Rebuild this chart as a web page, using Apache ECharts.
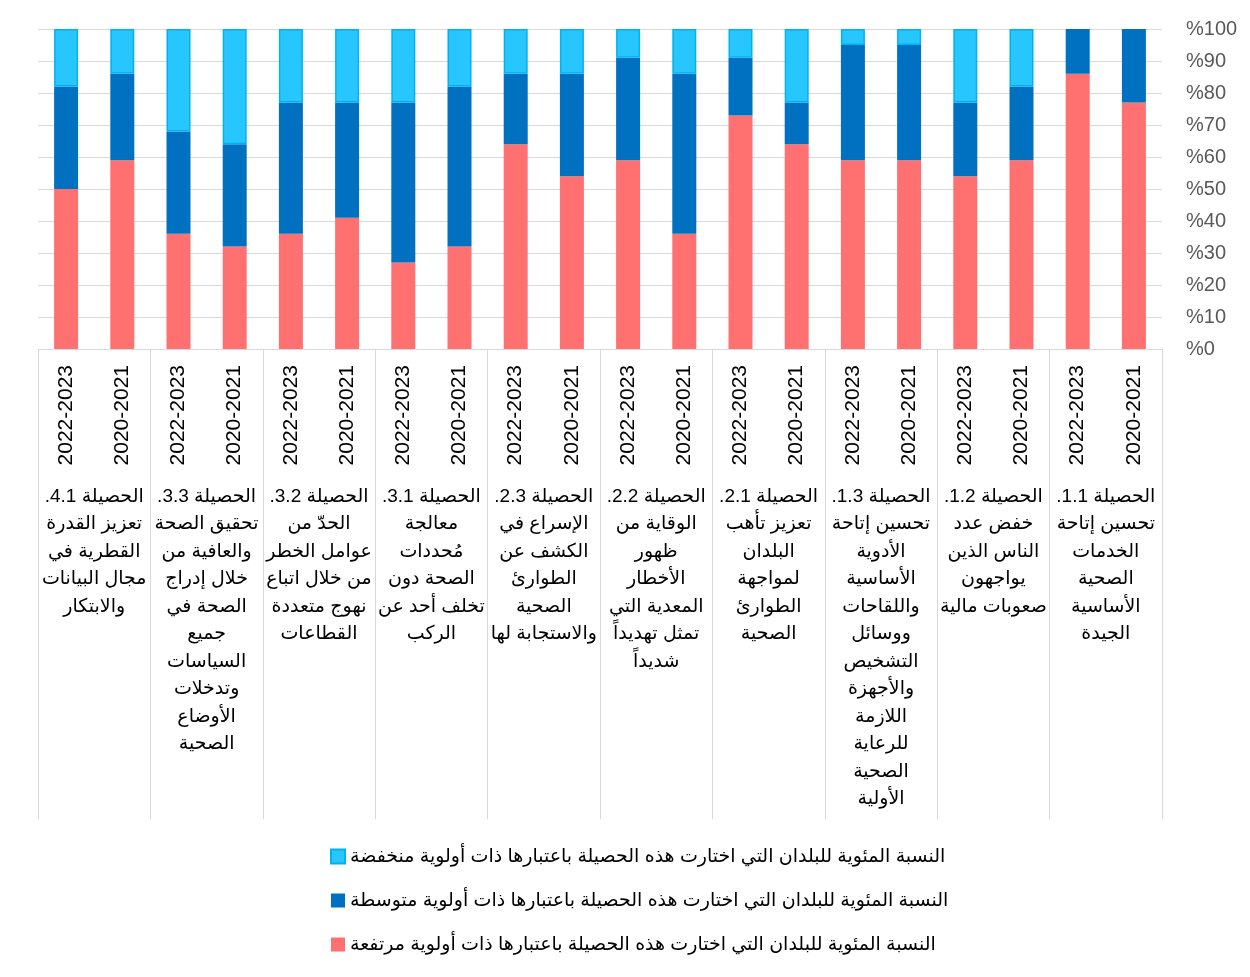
<!DOCTYPE html>
<html>
<head>
<meta charset="utf-8">
<script src="https://cdn.jsdelivr.net/npm/echarts@6/dist/echarts.min.js"></script>
<style>
  body { margin: 0; background: #ffffff; }
  #chart { width: 1250px; height: 977px; }
</style>
</head>
<body>
<div id="chart" dir="rtl"></div>
<script>
// categories, right to left (first = rightmost bar)
const years = ['2020-2021', '2022-2023', '2020-2021', '2022-2023', '2020-2021', '2022-2023', '2020-2021', '2022-2023', '2020-2021', '2022-2023',
  '2020-2021', '2022-2023', '2020-2021', '2022-2023', '2020-2021', '2022-2023', '2020-2021', '2022-2023', '2020-2021', '2022-2023']

const outcomes = [
  'الحصيلة 1.1.\nتحسين إتاحة\nالخدمات\nالصحية\nالأساسية\nالجيدة',
  'الحصيلة 1.2.\nخفض عدد\nالناس الذين\nيواجهون\nصعوبات مالية',
  'الحصيلة 1.3.\nتحسين إتاحة\nالأدوية\nالأساسية\nواللقاحات\nووسائل\nالتشخيص\nوالأجهزة\nاللازمة\nللرعاية\nالصحية\nالأولية',
  'الحصيلة 2.1.\nتعزيز تأهب\nالبلدان\nلمواجهة\nالطوارئ\nالصحية',
  'الحصيلة 2.2.\nالوقاية من\nظهور\nالأخطار\nالمعدية التي\nتمثل تهديداً\nشديداً',
  'الحصيلة 2.3.\nالإسراع في\nالكشف عن\nالطوارئ\nالصحية\nوالاستجابة لها',
  'الحصيلة 3.1.\nمعالجة\nمُحددات\nالصحة دون\nتخلف أحد عن\nالركب',
  'الحصيلة 3.2.\nالحدّ من\nعوامل الخطر\nمن خلال اتباع\nنهوج متعددة\nالقطاعات',
  'الحصيلة 3.3.\nتحقيق الصحة\nوالعافية من\nخلال إدراج\nالصحة في\nجميع\nالسياسات\nوتدخلات\nالأوضاع\nالصحية',
  'الحصيلة 4.1.\nتعزيز القدرة\nالقطرية في\nمجال البيانات\nوالابتكار'
]

const seriesNames = [
  'النسبة المئوية للبلدان التي اختارت هذه الحصيلة باعتبارها ذات أولوية مرتفعة',
  'النسبة المئوية للبلدان التي اختارت هذه الحصيلة باعتبارها ذات أولوية متوسطة',
  'النسبة المئوية للبلدان التي اختارت هذه الحصيلة باعتبارها ذات أولوية منخفضة'
]

const highValues = [77, 86, 59, 54, 59, 59, 64, 73, 36, 59, 54, 64, 32, 27, 41, 36, 32, 36, 59, 50]
const mediumValues = [23, 14, 23, 23, 36, 36, 13, 18, 50, 32, 32, 22, 50, 50, 36, 41, 32, 32, 27, 32]
const lowValues = [0, 0, 18, 23, 5, 5, 23, 9, 14, 9, 14, 14, 18, 23, 23, 23, 36, 32, 14, 18]

const yTicks = [0, 10, 20, 30, 40, 50, 60, 70, 80, 90, 100]

const font = 'Liberation Sans, Arial, DejaVu Sans, sans-serif'

let chart = echarts.init(document.getElementById('chart'))

function bar (name, data, color, border) {
  return {
    name: name,
    type: 'bar',
    stack: 'total',
    barWidth: 24,
    xAxisIndex: 0,
    itemStyle: {
      color: color,
      borderColor: border,
      borderWidth: border ? 1.5 : 0
    },
    data: data.map(v => (v === 0 ? '-' : v))
  }
}

let option = {
  backgroundColor: '#ffffff',
  animation: false,
  textStyle: { fontFamily: font },
  grid: {
    left: 38,
    right: 88,
    top: 29,
    bottom: 628
  },
  legend: {
    orient: 'vertical',
    left: 325,
    top: 842,
    itemGap: 25,
    itemWidth: 14,
    itemHeight: 14,
    icon: 'rect',
    data: [seriesNames[2], seriesNames[1], seriesNames[0]],
    textStyle: {
      fontSize: 19,
      color: '#000000',
      fontFamily: font
    }
  },
  xAxis: [
    {
      type: 'category',
      inverse: true,
      data: years,
      axisLine: { show: true, lineStyle: { color: '#d9d9d9' } },
      axisTick: { show: false },
      axisLabel: {
        interval: 0,
        rotate: 90,
        margin: 16,
        fontSize: 21,
        color: '#000000',
        fontFamily: font
      }
    },
    {
      type: 'category',
      inverse: true,
      position: 'bottom',
      data: outcomes,
      axisLine: { show: false },
      axisTick: {
        show: true,
        alignWithLabel: false,
        length: 470,
        lineStyle: { color: '#d9d9d9', width: 1 }
      },
      axisLabel: {
        interval: 0,
        margin: 134,
        fontSize: 19,
        lineHeight: 27.5,
        color: '#000000',
        fontFamily: font
      }
    }
  ],
  yAxis: {
    type: 'value',
    position: 'right',
    min: yTicks[0],
    max: yTicks[yTicks.length - 1],
    interval: 10,
    axisLine: { show: false },
    axisTick: { show: false },
    splitLine: { lineStyle: { color: '#d9d9d9', width: 1 } },
    axisLabel: {
      margin: 24,
      align: 'left',
      fontSize: 20,
      color: '#595959',
      fontFamily: font,
      formatter: v => '%' + v
    }
  },
  series: [
    bar(seriesNames[0], highValues, '#ff7171', null),
    bar(seriesNames[1], mediumValues, '#0070c0', null),
    bar(seriesNames[2], lowValues, '#27c6ff', '#00b2f0')
  ]
}
chart.setOption(option)
</script>
</body>
</html>
